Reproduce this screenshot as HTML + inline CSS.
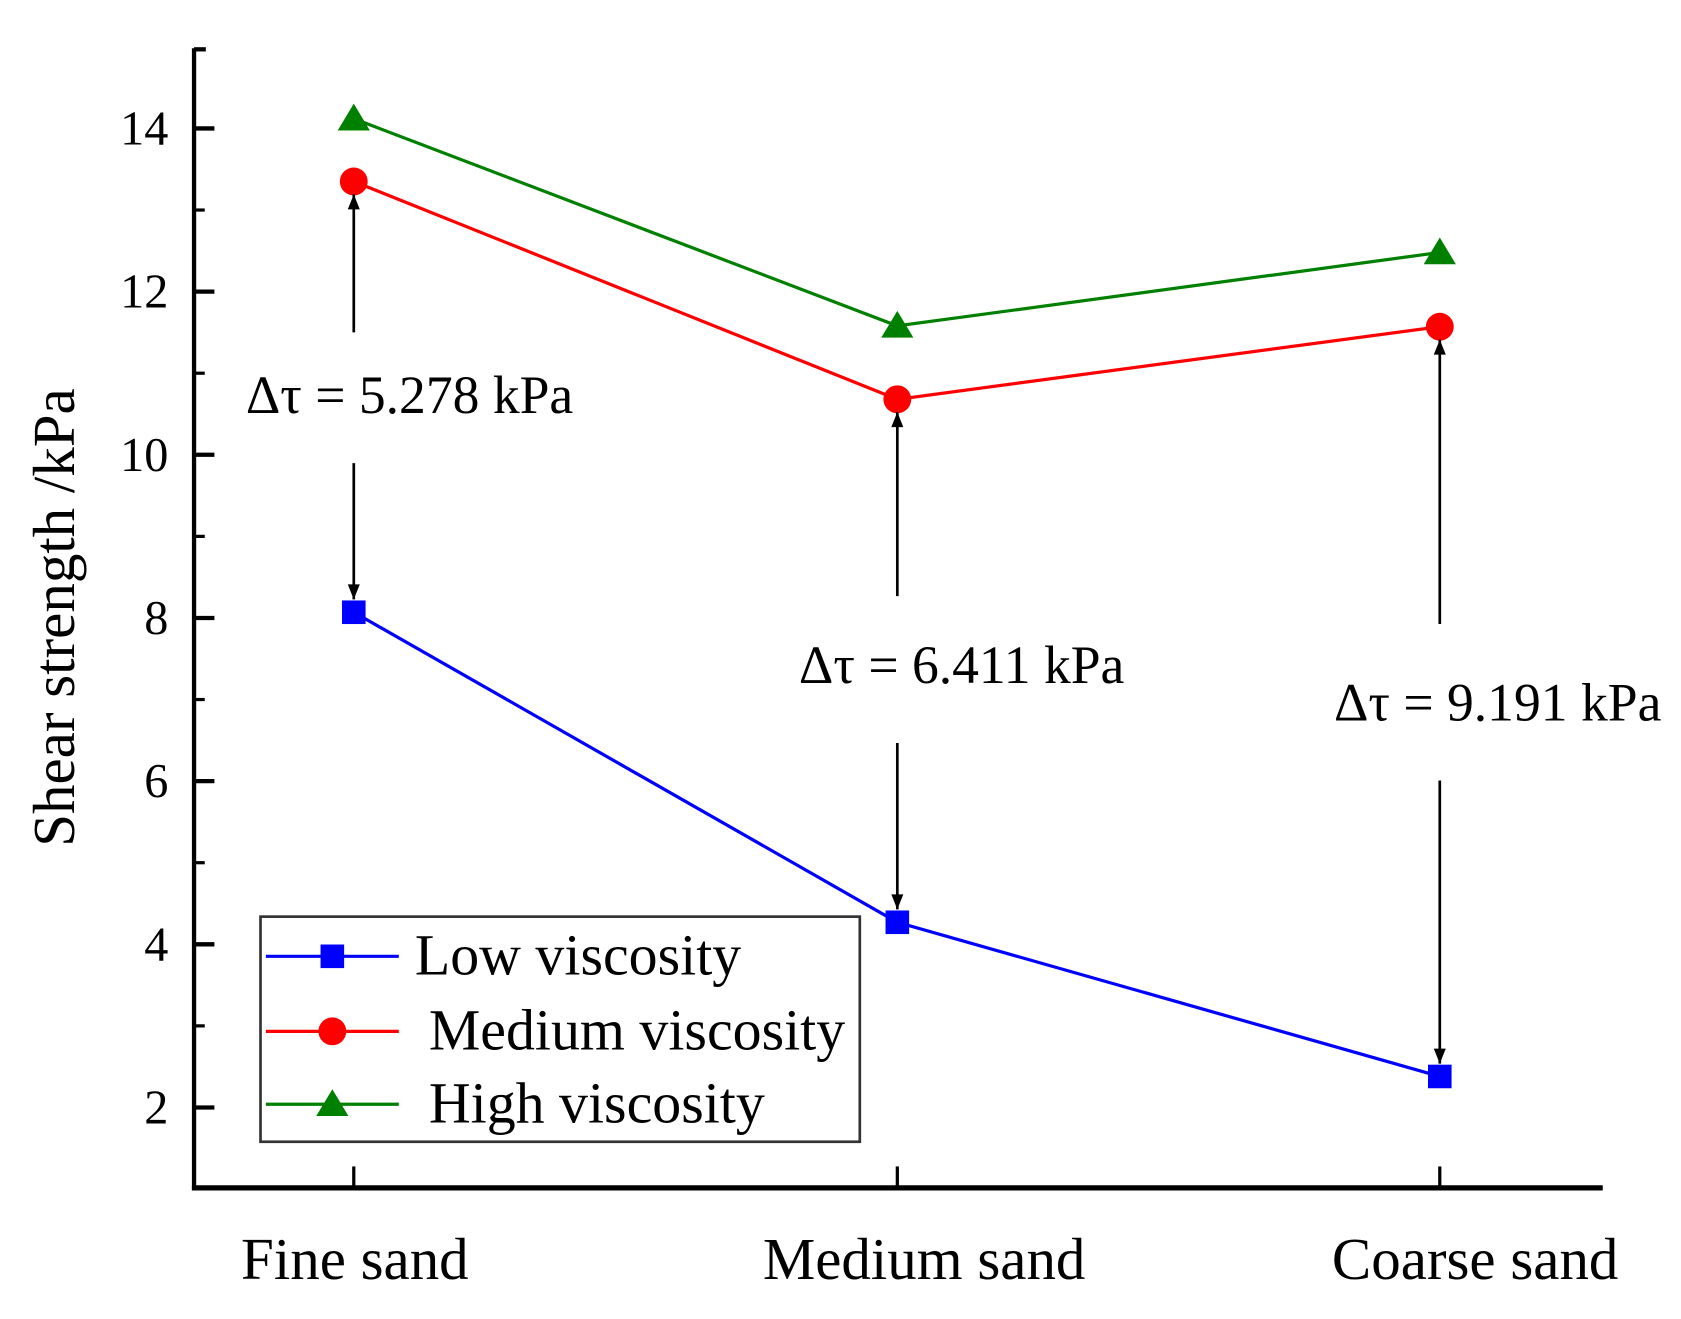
<!DOCTYPE html>
<html><head><meta charset="utf-8"><style>
html,body{margin:0;padding:0;background:#fff;}
svg{display:block;font-family:"Liberation Serif",serif;}
</style></head><body>
<svg id="chart" width="1681" height="1319" viewBox="0 0 1568 1230.3" xmlns="http://www.w3.org/2000/svg">
<g id="axes"></g>
<g id="series"></g>
<g id="annot"></g>
<g id="legend"></g>
</svg>
<script>
const categories = ["Fine sand", "Medium sand", "Coarse sand"];
const lowValues = [8.07, 4.27, 2.38];
const mediumValues = [13.35, 10.68, 11.57];
const highValues = [14.12, 11.58, 12.48];
const yTicks = [2, 4, 6, 8, 10, 12, 14];
const deltaLabels = ["Δτ = 5.278 kPa", "Δτ = 6.411 kPa", "Δτ = 9.191 kPa"];
const seriesNames = ["Low viscosity", "Medium viscosity", "High viscosity"];

const NS = "http://www.w3.org/2000/svg";
const xPos = [330, 837, 1343];
const xLabelShift = [1, 25, 33];
function xs(i){ return xPos[i]; }
function ys(v){ return 1033 - (v - 2) * 76.1; }
function mk(tag, attrs, parent){ const e = document.createElementNS(NS, tag); for (const k in attrs) e.setAttribute(k, attrs[k]); parent.appendChild(e); return e; }

const axes = document.getElementById('axes');
let el;
el = mk('line', {x1:181, y1:45, x2:181, y2:1110, stroke:'#000', 'stroke-width':4}, axes);


el = mk('line', {x1:179, y1:1108, x2:1495, y2:1108, stroke:'#000', 'stroke-width':5}, axes);


mk('line', {x1:181, y1:46, x2:192, y2:46, stroke:'#000', 'stroke-width':4}, axes);
for (let v = 3; v <= 13; v += 2) {
  el = mk('line', {x1:181, y1:ys(v), x2:191, y2:ys(v), stroke:'#000', 'stroke-width':3}, axes);
  
  
}
yTicks.forEach(v => {
  el = mk('line', {x1:181, y1:ys(v), x2:200, y2:ys(v), stroke:'#000', 'stroke-width':4}, axes);
  
  
  el = mk('text', {x:157, y:ys(v)+15, 'text-anchor':'end', 'font-size':45}, axes);
  el.textContent = v;
  
  
});
categories.forEach((c, i) => {
  el = mk('line', {x1:xs(i), y1:1108, x2:xs(i), y2:1088, stroke:'#000', 'stroke-width':3}, axes);
  
  
  el = mk('text', {x:xs(i)+xLabelShift[i], y:1193, 'text-anchor':'middle', 'font-size':55}, axes);
  el.textContent = c;
  
  
});
el = mk('text', {x:0, y:0, 'text-anchor':'middle', 'font-size':55, transform:'translate(69,576) rotate(-90)'}, axes);
el.textContent = 'Shear strength /kPa';



const series = document.getElementById('series');
const colors = ['#0000ff', '#ff0000', '#008000'];
function marker(type, x, y, color, parent){
  if (type === 0) return mk('rect', {x:x-11, y:y-11, width:22, height:22, fill:color}, parent);
  if (type === 1) return mk('circle', {cx:x, cy:y, r:13, fill:color}, parent);
  return mk('polygon', {points:`${x},${y-14} ${x-15},${y+11} ${x+15},${y+11}`, fill:color}, parent);
}
[lowValues, mediumValues, highValues].forEach((vals, s) => {
  const pts = vals.map((v, i) => xs(i) + ',' + ys(v)).join(' ');
  el = mk('polyline', {points:pts, fill:'none', stroke:colors[s], 'stroke-width':3}, series);
  
  
  vals.forEach((v, i) => {
    el = marker(s, xs(i), ys(v), colors[s], series);
    
    
  });
});

const annot = document.getElementById('annot');
const defs = mk('defs', {}, document.getElementById('chart'));
const m = mk('marker', {id:'ah', viewBox:'0 0 10 10', refX:10, refY:5, orient:'auto', markerUnits:'userSpaceOnUse', markerWidth:24, markerHeight:14}, defs);
mk('path', {d:'M0,1 L10,5 L0,9 Z', fill:'#000'}, m);
const labelY = [385, 637, 672];
const labelX = [382, 897, 1397];
const gapTop = [310, 556, 582];
const gapBot = [432, 693, 728];
categories.forEach((c, i) => {
  const yTop = ys(mediumValues[i]) + 12, yBot = ys(lowValues[i]) - 12;
  el = mk('line', {x1:xs(i), y1:gapTop[i], x2:xs(i), y2:yTop, stroke:'#000', 'stroke-width':2.5, 'marker-end':'url(#ah)'}, annot);
  
  
  el = mk('line', {x1:xs(i), y1:gapBot[i], x2:xs(i), y2:yBot, stroke:'#000', 'stroke-width':2.5, 'marker-end':'url(#ah)'}, annot);
  
  
  el = mk('text', {x:labelX[i], y:labelY[i], 'text-anchor':'middle', 'font-size':50}, annot);
  el.textContent = deltaLabels[i];
  
  
});

const legend = document.getElementById('legend');
el = mk('rect', {x:243, y:855, width:559, height:210, fill:'#fff', stroke:'#333', 'stroke-width':2.5}, legend);


const legY = [892, 962, 1030];
const legTX = [387, 400, 400];
seriesNames.forEach((n, s) => {
  el = mk('line', {x1:248, y1:legY[s], x2:372, y2:legY[s], stroke:colors[s], 'stroke-width':3}, legend);
  
  
  el = marker(s, 310, legY[s], colors[s], legend);
  
  
  el = mk('text', {x:legTX[s], y:legY[s]+17, 'font-size':54}, legend);
  el.textContent = n;
  
  
});
</script>
</body></html>
